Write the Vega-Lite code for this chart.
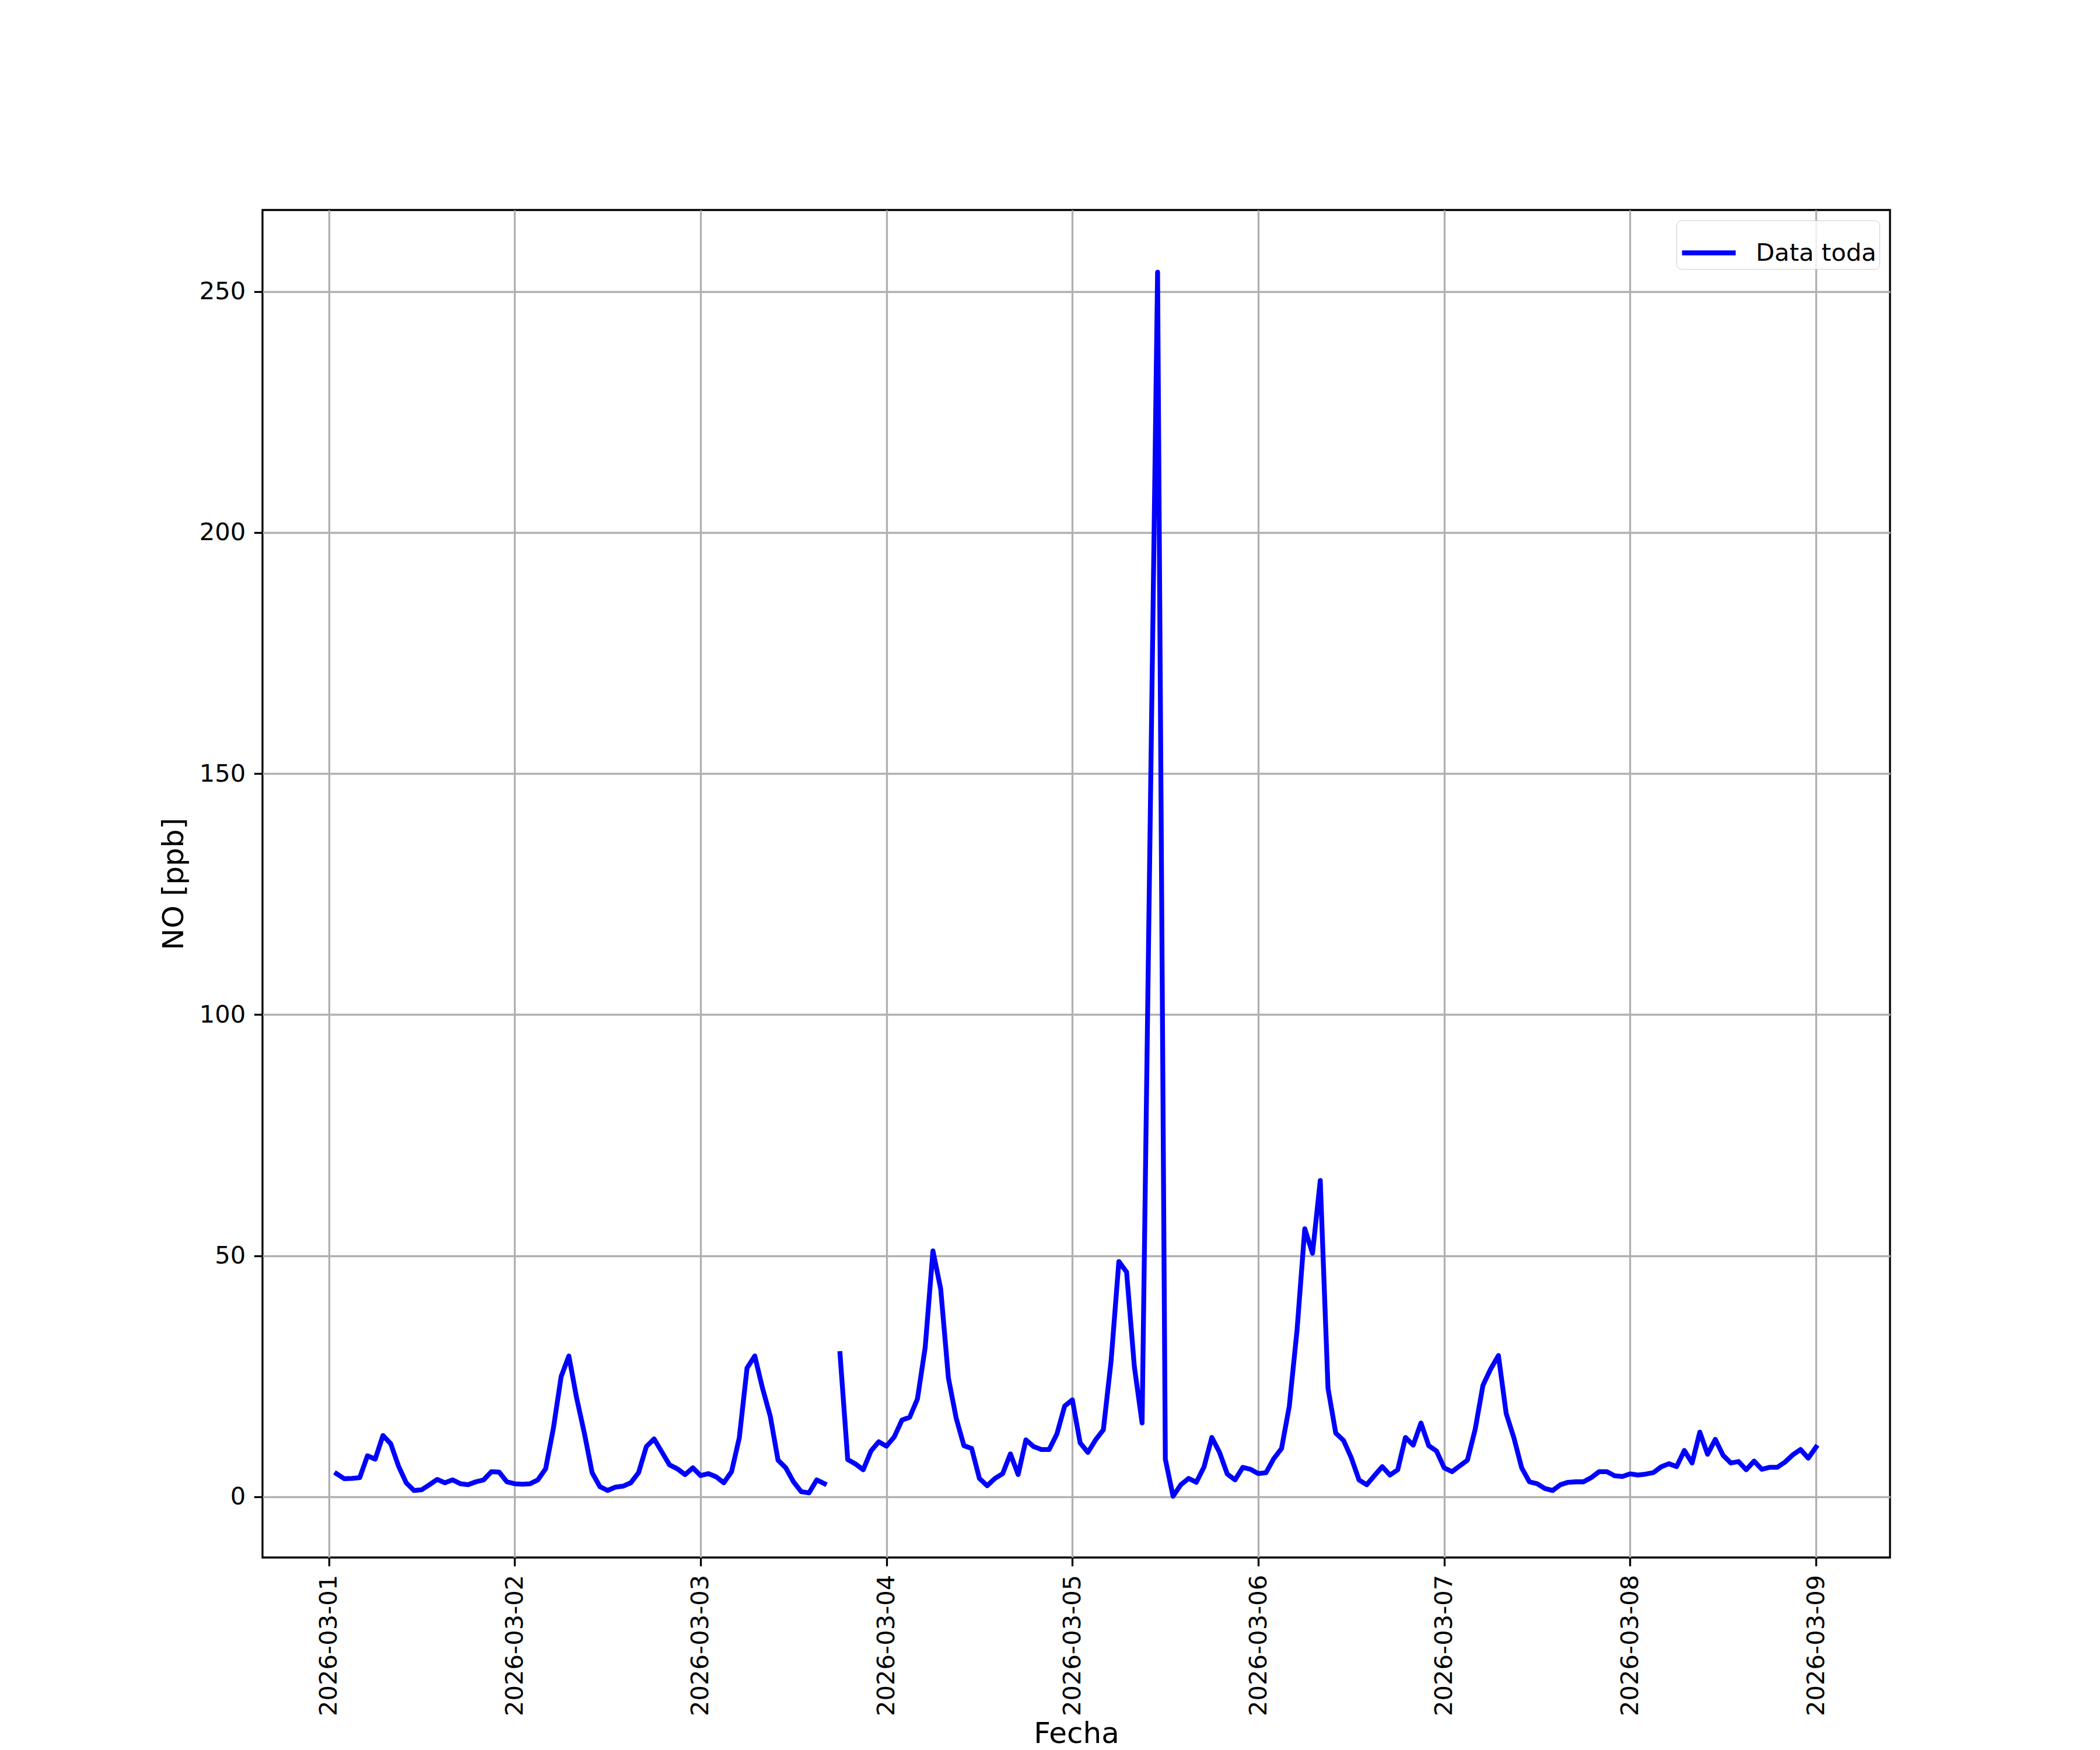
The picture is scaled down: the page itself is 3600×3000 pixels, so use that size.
{
  "$schema": "https://vega.github.io/schema/vega-lite/v6.json",
  "width": 2790,
  "height": 2310,
  "autosize": {"type": "none"},
  "padding": {"left": 450, "top": 360, "right": 360, "bottom": 330},
  "background": "white",
  "config": {
    "font": "DejaVu Sans",
    "view": {"stroke": "black", "strokeWidth": 3.3}
  },
  "data": {"values": [
    {"fecha": "2026-03-01T01:00:00", "no": 4.8},
    {"fecha": "2026-03-01T02:00:00", "no": 3.75},
    {"fecha": "2026-03-01T03:00:00", "no": 3.8},
    {"fecha": "2026-03-01T04:00:00", "no": 3.95},
    {"fecha": "2026-03-01T05:00:00", "no": 8.5},
    {"fecha": "2026-03-01T06:00:00", "no": 7.8},
    {"fecha": "2026-03-01T07:00:00", "no": 12.7},
    {"fecha": "2026-03-01T08:00:00", "no": 11.0},
    {"fecha": "2026-03-01T09:00:00", "no": 6.4},
    {"fecha": "2026-03-01T10:00:00", "no": 2.9},
    {"fecha": "2026-03-01T11:00:00", "no": 1.3},
    {"fecha": "2026-03-01T12:00:00", "no": 1.45},
    {"fecha": "2026-03-01T13:00:00", "no": 2.5},
    {"fecha": "2026-03-01T14:00:00", "no": 3.6},
    {"fecha": "2026-03-01T15:00:00", "no": 2.9},
    {"fecha": "2026-03-01T16:00:00", "no": 3.5},
    {"fecha": "2026-03-01T17:00:00", "no": 2.7},
    {"fecha": "2026-03-01T18:00:00", "no": 2.5},
    {"fecha": "2026-03-01T19:00:00", "no": 3.1},
    {"fecha": "2026-03-01T20:00:00", "no": 3.5},
    {"fecha": "2026-03-01T21:00:00", "no": 5.2},
    {"fecha": "2026-03-01T22:00:00", "no": 5.1},
    {"fecha": "2026-03-01T23:00:00", "no": 3.1},
    {"fecha": "2026-03-02T00:00:00", "no": 2.7},
    {"fecha": "2026-03-02T01:00:00", "no": 2.6},
    {"fecha": "2026-03-02T02:00:00", "no": 2.7},
    {"fecha": "2026-03-02T03:00:00", "no": 3.5},
    {"fecha": "2026-03-02T04:00:00", "no": 5.8},
    {"fecha": "2026-03-02T05:00:00", "no": 14.2},
    {"fecha": "2026-03-02T06:00:00", "no": 24.9},
    {"fecha": "2026-03-02T07:00:00", "no": 29.2},
    {"fecha": "2026-03-02T08:00:00", "no": 20.5},
    {"fecha": "2026-03-02T09:00:00", "no": 13.2},
    {"fecha": "2026-03-02T10:00:00", "no": 5.0},
    {"fecha": "2026-03-02T11:00:00", "no": 2.1},
    {"fecha": "2026-03-02T12:00:00", "no": 1.3},
    {"fecha": "2026-03-02T13:00:00", "no": 2.0},
    {"fecha": "2026-03-02T14:00:00", "no": 2.2},
    {"fecha": "2026-03-02T15:00:00", "no": 2.9},
    {"fecha": "2026-03-02T16:00:00", "no": 5.0},
    {"fecha": "2026-03-02T17:00:00", "no": 10.4},
    {"fecha": "2026-03-02T18:00:00", "no": 12.0},
    {"fecha": "2026-03-02T19:00:00", "no": 9.3},
    {"fecha": "2026-03-02T20:00:00", "no": 6.6},
    {"fecha": "2026-03-02T21:00:00", "no": 5.8},
    {"fecha": "2026-03-02T22:00:00", "no": 4.6},
    {"fecha": "2026-03-02T23:00:00", "no": 6.0},
    {"fecha": "2026-03-03T00:00:00", "no": 4.4},
    {"fecha": "2026-03-03T01:00:00", "no": 4.8},
    {"fecha": "2026-03-03T02:00:00", "no": 4.15},
    {"fecha": "2026-03-03T03:00:00", "no": 2.9},
    {"fecha": "2026-03-03T04:00:00", "no": 5.2},
    {"fecha": "2026-03-03T05:00:00", "no": 12.2},
    {"fecha": "2026-03-03T06:00:00", "no": 26.7},
    {"fecha": "2026-03-03T07:00:00", "no": 29.2},
    {"fecha": "2026-03-03T08:00:00", "no": 22.5},
    {"fecha": "2026-03-03T09:00:00", "no": 16.7},
    {"fecha": "2026-03-03T10:00:00", "no": 7.6},
    {"fecha": "2026-03-03T11:00:00", "no": 6.0},
    {"fecha": "2026-03-03T12:00:00", "no": 3.1},
    {"fecha": "2026-03-03T13:00:00", "no": 1.05},
    {"fecha": "2026-03-03T14:00:00", "no": 0.8},
    {"fecha": "2026-03-03T15:00:00", "no": 3.5},
    {"fecha": "2026-03-03T16:00:00", "no": 2.7},
    {"fecha": "2026-03-03T17:00:00", "no": null},
    {"fecha": "2026-03-03T18:00:00", "no": 29.7},
    {"fecha": "2026-03-03T19:00:00", "no": 7.7},
    {"fecha": "2026-03-03T20:00:00", "no": 6.8},
    {"fecha": "2026-03-03T21:00:00", "no": 5.6},
    {"fecha": "2026-03-03T22:00:00", "no": 9.5},
    {"fecha": "2026-03-03T23:00:00", "no": 11.4},
    {"fecha": "2026-03-04T00:00:00", "no": 10.5},
    {"fecha": "2026-03-04T01:00:00", "no": 12.4},
    {"fecha": "2026-03-04T02:00:00", "no": 15.9},
    {"fecha": "2026-03-04T03:00:00", "no": 16.5},
    {"fecha": "2026-03-04T04:00:00", "no": 20.3},
    {"fecha": "2026-03-04T05:00:00", "no": 31.0},
    {"fecha": "2026-03-04T06:00:00", "no": 51.0},
    {"fecha": "2026-03-04T07:00:00", "no": 43.1},
    {"fecha": "2026-03-04T08:00:00", "no": 24.6},
    {"fecha": "2026-03-04T09:00:00", "no": 16.3},
    {"fecha": "2026-03-04T10:00:00", "no": 10.6},
    {"fecha": "2026-03-04T11:00:00", "no": 10.0},
    {"fecha": "2026-03-04T12:00:00", "no": 3.8},
    {"fecha": "2026-03-04T13:00:00", "no": 2.3},
    {"fecha": "2026-03-04T14:00:00", "no": 3.8},
    {"fecha": "2026-03-04T15:00:00", "no": 4.8},
    {"fecha": "2026-03-04T16:00:00", "no": 8.9},
    {"fecha": "2026-03-04T17:00:00", "no": 4.6},
    {"fecha": "2026-03-04T18:00:00", "no": 11.8},
    {"fecha": "2026-03-04T19:00:00", "no": 10.4},
    {"fecha": "2026-03-04T20:00:00", "no": 9.8},
    {"fecha": "2026-03-04T21:00:00", "no": 9.8},
    {"fecha": "2026-03-04T22:00:00", "no": 13.0},
    {"fecha": "2026-03-04T23:00:00", "no": 18.8},
    {"fecha": "2026-03-05T00:00:00", "no": 20.1},
    {"fecha": "2026-03-05T01:00:00", "no": 11.2},
    {"fecha": "2026-03-05T02:00:00", "no": 9.2},
    {"fecha": "2026-03-05T03:00:00", "no": 11.8},
    {"fecha": "2026-03-05T04:00:00", "no": 13.9},
    {"fecha": "2026-03-05T05:00:00", "no": 28.2},
    {"fecha": "2026-03-05T06:00:00", "no": 48.8},
    {"fecha": "2026-03-05T07:00:00", "no": 46.6},
    {"fecha": "2026-03-05T08:00:00", "no": 27.0},
    {"fecha": "2026-03-05T09:00:00", "no": 15.3},
    {"fecha": "2026-03-05T10:00:00", "no": 134.6},
    {"fecha": "2026-03-05T11:00:00", "no": 254.0},
    {"fecha": "2026-03-05T12:00:00", "no": 7.8},
    {"fecha": "2026-03-05T13:00:00", "no": 0.1},
    {"fecha": "2026-03-05T14:00:00", "no": 2.5},
    {"fecha": "2026-03-05T15:00:00", "no": 3.8},
    {"fecha": "2026-03-05T16:00:00", "no": 3.0},
    {"fecha": "2026-03-05T17:00:00", "no": 6.2},
    {"fecha": "2026-03-05T18:00:00", "no": 12.3},
    {"fecha": "2026-03-05T19:00:00", "no": 9.2},
    {"fecha": "2026-03-05T20:00:00", "no": 4.7},
    {"fecha": "2026-03-05T21:00:00", "no": 3.5},
    {"fecha": "2026-03-05T22:00:00", "no": 6.1},
    {"fecha": "2026-03-05T23:00:00", "no": 5.7},
    {"fecha": "2026-03-06T00:00:00", "no": 4.8},
    {"fecha": "2026-03-06T01:00:00", "no": 5.0},
    {"fecha": "2026-03-06T02:00:00", "no": 7.9},
    {"fecha": "2026-03-06T03:00:00", "no": 10.0},
    {"fecha": "2026-03-06T04:00:00", "no": 18.75},
    {"fecha": "2026-03-06T05:00:00", "no": 34.5},
    {"fecha": "2026-03-06T06:00:00", "no": 55.6},
    {"fecha": "2026-03-06T07:00:00", "no": 50.5},
    {"fecha": "2026-03-06T08:00:00", "no": 65.6},
    {"fecha": "2026-03-06T09:00:00", "no": 22.5},
    {"fecha": "2026-03-06T10:00:00", "no": 13.2},
    {"fecha": "2026-03-06T11:00:00", "no": 11.7},
    {"fecha": "2026-03-06T12:00:00", "no": 8.1},
    {"fecha": "2026-03-06T13:00:00", "no": 3.5},
    {"fecha": "2026-03-06T14:00:00", "no": 2.5},
    {"fecha": "2026-03-06T15:00:00", "no": 4.4},
    {"fecha": "2026-03-06T16:00:00", "no": 6.25},
    {"fecha": "2026-03-06T17:00:00", "no": 4.5},
    {"fecha": "2026-03-06T18:00:00", "no": 5.6},
    {"fecha": "2026-03-06T19:00:00", "no": 12.3},
    {"fecha": "2026-03-06T20:00:00", "no": 10.7},
    {"fecha": "2026-03-06T21:00:00", "no": 15.3},
    {"fecha": "2026-03-06T22:00:00", "no": 10.6},
    {"fecha": "2026-03-06T23:00:00", "no": 9.5},
    {"fecha": "2026-03-07T00:00:00", "no": 6.0},
    {"fecha": "2026-03-07T01:00:00", "no": 5.2},
    {"fecha": "2026-03-07T02:00:00", "no": 6.4},
    {"fecha": "2026-03-07T03:00:00", "no": 7.6},
    {"fecha": "2026-03-07T04:00:00", "no": 14.0},
    {"fecha": "2026-03-07T05:00:00", "no": 23.1},
    {"fecha": "2026-03-07T06:00:00", "no": 26.5},
    {"fecha": "2026-03-07T07:00:00", "no": 29.3},
    {"fecha": "2026-03-07T08:00:00", "no": 17.3},
    {"fecha": "2026-03-07T09:00:00", "no": 12.2},
    {"fecha": "2026-03-07T10:00:00", "no": 6.0},
    {"fecha": "2026-03-07T11:00:00", "no": 3.1},
    {"fecha": "2026-03-07T12:00:00", "no": 2.7},
    {"fecha": "2026-03-07T13:00:00", "no": 1.7},
    {"fecha": "2026-03-07T14:00:00", "no": 1.3},
    {"fecha": "2026-03-07T15:00:00", "no": 2.5},
    {"fecha": "2026-03-07T16:00:00", "no": 3.0},
    {"fecha": "2026-03-07T17:00:00", "no": 3.1},
    {"fecha": "2026-03-07T18:00:00", "no": 3.1},
    {"fecha": "2026-03-07T19:00:00", "no": 4.0},
    {"fecha": "2026-03-07T20:00:00", "no": 5.2},
    {"fecha": "2026-03-07T21:00:00", "no": 5.2},
    {"fecha": "2026-03-07T22:00:00", "no": 4.35},
    {"fecha": "2026-03-07T23:00:00", "no": 4.2},
    {"fecha": "2026-03-08T00:00:00", "no": 4.75},
    {"fecha": "2026-03-08T01:00:00", "no": 4.5},
    {"fecha": "2026-03-08T02:00:00", "no": 4.7},
    {"fecha": "2026-03-08T03:00:00", "no": 5.0},
    {"fecha": "2026-03-08T04:00:00", "no": 6.2},
    {"fecha": "2026-03-08T05:00:00", "no": 6.85},
    {"fecha": "2026-03-08T06:00:00", "no": 6.25},
    {"fecha": "2026-03-08T07:00:00", "no": 9.6},
    {"fecha": "2026-03-08T08:00:00", "no": 7.0},
    {"fecha": "2026-03-08T09:00:00", "no": 13.4},
    {"fecha": "2026-03-08T10:00:00", "no": 8.8},
    {"fecha": "2026-03-08T11:00:00", "no": 11.9},
    {"fecha": "2026-03-08T12:00:00", "no": 8.6},
    {"fecha": "2026-03-08T13:00:00", "no": 7.0},
    {"fecha": "2026-03-08T14:00:00", "no": 7.3},
    {"fecha": "2026-03-08T15:00:00", "no": 5.6},
    {"fecha": "2026-03-08T16:00:00", "no": 7.4},
    {"fecha": "2026-03-08T17:00:00", "no": 5.7},
    {"fecha": "2026-03-08T18:00:00", "no": 6.1},
    {"fecha": "2026-03-08T19:00:00", "no": 6.1},
    {"fecha": "2026-03-08T20:00:00", "no": 7.2},
    {"fecha": "2026-03-08T21:00:00", "no": 8.7},
    {"fecha": "2026-03-08T22:00:00", "no": 9.8},
    {"fecha": "2026-03-08T23:00:00", "no": 8.0},
    {"fecha": "2026-03-09T00:00:00", "no": 10.3}
  ]},
  "mark": {
    "type": "line",
    "strokeWidth": 8.3,
    "strokeCap": "square",
    "strokeJoin": "round",
    "invalid": "break-paths-show-domains"
  },
  "encoding": {
    "x": {
      "field": "fecha",
      "type": "temporal",
      "scale": {
        "domain": [
          {"year": 2026, "month": 2, "date": 28, "hours": 15, "minutes": 27},
          {"year": 2026, "month": 3, "date": 9, "hours": 9, "minutes": 33}
        ],
        "nice": false
      },
      "axis": {
        "title": "Fecha",
        "format": "%Y-%m-%d",
        "labelAngle": -90,
        "tickCount": {"interval": "day", "step": 1},
        "labelOverlap": false,
        "labelFlush": false,
        "labelLimit": 0,
        "domain": false,
        "grid": true,
        "gridColor": "#b0b0b0",
        "gridWidth": 3.3,
        "ticks": true,
        "tickColor": "black",
        "tickSize": 14.6,
        "tickWidth": 3.3,
        "labelPadding": 14.6,
        "labelFont": "DejaVu Sans",
        "labelFontSize": 41.7,
        "labelColor": "black",
        "titleFont": "DejaVu Sans",
        "titleFontSize": 50,
        "titleFontWeight": "normal",
        "titleColor": "black",
        "titlePadding": 77
      }
    },
    "y": {
      "field": "no",
      "type": "quantitative",
      "scale": {"domain": [-12.6, 266.9], "nice": false, "zero": false},
      "axis": {
        "title": "NO [ppb]",
        "values": [0, 50, 100, 150, 200, 250],
        "domain": false,
        "grid": true,
        "gridColor": "#b0b0b0",
        "gridWidth": 3.3,
        "ticks": true,
        "tickColor": "black",
        "tickSize": 14.6,
        "tickWidth": 3.3,
        "labelPadding": 14.6,
        "labelLimit": 0,
        "labelFont": "DejaVu Sans",
        "labelFontSize": 41.7,
        "labelColor": "black",
        "titleFont": "DejaVu Sans",
        "titleFontSize": 50,
        "titleFontWeight": "normal",
        "titleColor": "black",
        "titlePadding": 18
      }
    },
    "color": {
      "datum": "Data toda",
      "scale": {"range": ["#0000ff"]},
      "legend": {
        "title": null,
        "orient": "top-right",
        "offset": 18,
        "symbolType": "stroke",
        "symbolSize": 8464,
        "symbolStrokeWidth": 8.3,
        "labelFont": "DejaVu Sans",
        "labelFontSize": 41.7,
        "labelColor": "black",
        "labelLimit": 0,
        "labelOffset": 30,
        "padding": 5,
        "strokeColor": "#cccccc",
        "fillColor": "rgba(255,255,255,0.8)",
        "cornerRadius": 8
      }
    }
  }
}
